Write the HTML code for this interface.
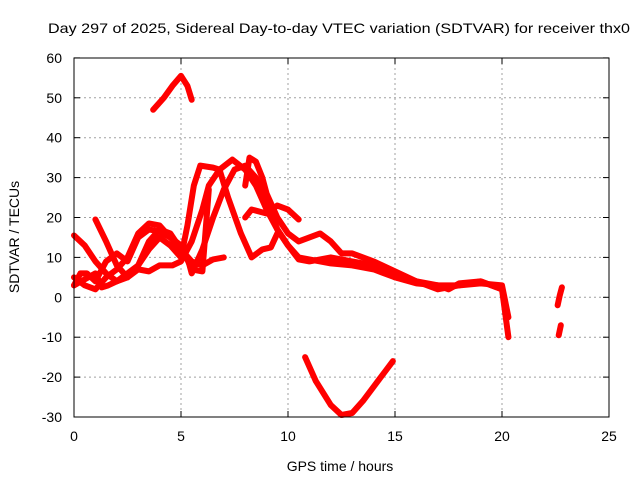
<!DOCTYPE html>
<html><head><meta charset="utf-8"><style>
body{margin:0;background:#fff}
svg{display:block;font-family:"Liberation Sans",sans-serif}
</style></head><body>
<svg id="c" width="640" height="480">
<text x="48" y="33" font-size="14" textLength="582" lengthAdjust="spacingAndGlyphs">Day 297 of 2025, Sidereal Day-to-day VTEC variation (SDTVAR) for receiver thx0</text>
<text x="340" y="471" font-size="14" text-anchor="middle">GPS time / hours</text>
<text transform="translate(19,237) rotate(-90)" font-size="14" text-anchor="middle">SDTVAR / TECUs</text>
<g id="grid"></g><g id="ticks"></g><g id="series"></g>
<rect x="74" y="58" width="535" height="359" fill="none" stroke="#000" stroke-width="1"/>
</svg>
<script>
const xTicks=[0,5,10,15,20,25];
const yTicks=[-30,-20,-10,0,10,20,30,40,50,60];
const s1=[[3.7,47],[4.2,50],[4.6,53],[5.0,55.5],[5.3,53],[5.5,49.5]];
const s2=[[10.8,-15],[11.3,-21],[12,-27],[12.5,-29.5],[13,-29],[13.5,-26],[14.2,-21],[14.9,-16]];
const s3=[[0,15.5],[0.5,13],[1,9],[1.5,6],[2,4],[2.5,5],[3,7],[3.5,6.5],[4,8],[4.6,8],[5,9],[5.5,14],[6,22],[6.3,28],[6.8,32],[7.4,34.5],[8,32],[8.5,28],[9,22],[9.5,17],[10,13],[10.5,9.5],[11,9],[12,10],[13,9],[14,8],[15,5],[16,4],[17,2],[18,3],[19,4],[20,2],[20.3,-10]];
const s4=[[1,19.5],[1.5,14],[2,8],[2.5,5],[3,8],[3.5,12],[4,15],[4.5,13],[5,10],[5.3,18],[5.6,28],[5.9,33],[6.5,32.5],[6.8,32],[7.2,25],[7.8,16],[8.3,10],[8.8,12],[9.2,12.5],[9.5,16]];
const s5=[[0,5],[0.5,3],[1,2],[1.5,5],[2,7],[2.5,10],[3,16],[3.5,18.5],[4,18],[4.5,15],[5,12],[5.5,9],[6,8],[6.5,9.5],[7,10]];
const s6=[[0,3],[0.5,4.5],[1,6],[1.3,2.5],[1.6,3],[2,4],[2.5,6],[3,8],[3.5,14],[4,17],[4.5,16],[5,12],[5.3,10],[5.5,6],[6,12],[6.5,20],[7,27],[7.5,32],[8,33],[8.5,30],[9,24],[9.5,17],[10,13],[10.5,10],[11,9.5],[12,8.5],[13,8],[14,7],[15,5],[16,3.5],[17,3],[18,3],[19,3.5],[20,3],[20.3,-5]];
const s7=[[8.0,28],[8.2,35],[8.5,34],[8.8,30],[9,26],[9.5,20],[10,16],[10.5,14],[11,15],[11.5,16],[12,14],[12.5,11],[13,11],[14,9],[15,6.5],[16,4],[17,3],[17.5,2],[18,3.5],[19,4],[20,2]];
const s8=[[8.0,20],[8.3,22],[9,21],[9.5,23],[10,22],[10.5,19.5]];
const s9=[[0,3],[0.3,6],[0.6,6],[1,4],[1.5,9],[2,11],[2.5,9],[3,15],[3.5,17],[4,16.5],[4.5,15],[5,13],[5.5,7],[6,6.5],[6.3,27]];
const s10=[[22.6,-2],[22.7,0.5],[22.8,2.5]];
const s11=[[22.65,-9.5],[22.75,-7]];
const seriesList=[s1,s2,s3,s4,s5,s6,s7,s8,s9,s10,s11];
const X=h=>74+h*21.4, Y=v=>297.3-v*3.99;
const NS='http://www.w3.org/2000/svg';
function mk(t,a,p){const e=document.createElementNS(NS,t);for(const k in a)e.setAttribute(k,a[k]);p.appendChild(e);return e;}
const grid=document.getElementById('grid'),ticks=document.getElementById('ticks'),ser=document.getElementById('series');
xTicks.forEach(t=>{
 if(t>0&&t<25){const l=mk('line',{x1:X(t),x2:X(t),y1:58,y2:417,stroke:'#a0a0a0','stroke-dasharray':'2,3'},grid);
 
 }
 mk('line',{x1:X(t),x2:X(t),y1:417,y2:411,stroke:'#000'},ticks);
 mk('line',{x1:X(t),x2:X(t),y1:58,y2:64,stroke:'#000'},ticks);
 const tx=mk('text',{x:X(t),y:441,'font-size':14,'text-anchor':'middle'},ticks);tx.textContent=t;
 
 
});
yTicks.forEach(t=>{
 if(t>-30&&t<60){const l=mk('line',{x1:74,x2:609,y1:Y(t),y2:Y(t),stroke:'#a0a0a0','stroke-dasharray':'2,3'},grid);
 
 }
 mk('line',{x1:74,x2:80,y1:Y(t),y2:Y(t),stroke:'#000'},ticks);
 mk('line',{x1:603,x2:609,y1:Y(t),y2:Y(t),stroke:'#000'},ticks);
 const tx=mk('text',{x:62,y:Y(t)+5,'font-size':14,'text-anchor':'end'},ticks);tx.textContent=t;
 
 
});
seriesList.forEach((s,i)=>{
 const p=mk('polyline',{points:s.map(d=>X(d[0])+','+Y(d[1])).join(' '),fill:'none',stroke:'#ff0000','stroke-width':6,'stroke-linejoin':'round','stroke-linecap':'round'},ser);
 
 
});
</script>
</body></html>
